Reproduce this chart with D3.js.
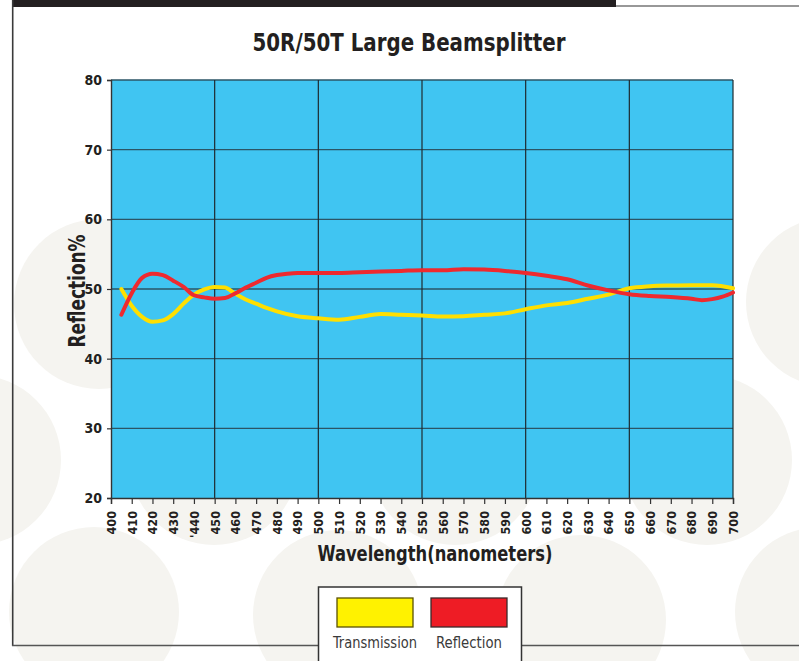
<!DOCTYPE html>
<html>
<head>
<meta charset="utf-8">
<script src="https://cdn.jsdelivr.net/npm/d3@7"></script>
<style>
html,body{margin:0;padding:0;background:#fff;}
svg{display:block;}
</style>
</head>
<body>
<svg id="chart" width="799" height="661"></svg>
<script>
// ---- data ----
const wavelengths = [400,410,420,430,440,450,460,470,480,490,500,510,520,530,540,550,560,570,580,590,600,610,620,630,640,650,660,670,680,690,700];
const xTickLabels = ["400","410","420","430","'440","450","460","470","480","490","500","510","520","530","540","550","560","570","580","590","600","610","620","630","640","650","660","670","680","690","700"];
const yTicks = [20,30,40,50,60,70,80];

const reflectionNm = [405,410,415,420,425,430,435,440,445,450,455,460,465,470,475,480,485,490,500,510,520,530,540,550,560,570,580,590,600,610,620,630,640,650,660,670,680,685,690,695,700];
const reflection   = [46.3,49.4,51.6,52.2,52.0,51.2,50.3,49.1,48.8,48.6,48.7,49.4,50.2,50.9,51.6,52.0,52.2,52.3,52.3,52.3,52.4,52.5,52.6,52.7,52.7,52.85,52.8,52.6,52.3,51.9,51.4,50.5,49.8,49.25,49.0,48.85,48.6,48.4,48.55,48.9,49.5];

const transmissionNm = [405,410,415,420,425,430,435,440,445,450,455,460,465,470,475,480,490,500,510,520,530,540,550,560,570,580,590,600,610,620,630,640,650,660,670,680,690,700];
const transmission   = [50.0,47.6,46.0,45.3,45.5,46.4,47.9,49.2,49.95,50.3,50.2,49.3,48.5,47.9,47.3,46.8,46.1,45.8,45.6,46.0,46.4,46.3,46.2,46.05,46.1,46.3,46.5,47.1,47.65,48.0,48.6,49.2,50.1,50.4,50.5,50.55,50.55,50.1];

const seriesNames = ["Transmission","Reflection"];
const seriesColors = ["#ffdf00","#ee2a2f"];
const swatchColors = ["#fff200","#ee1c25"];

// background decorative circles
const bgCircles = [[99,304],[-24,460],[94,612],[338,615],[581,620],[820,612],[831,302],[707,460],[214,460],[455,460]];

// ---- drawing ----
const svg = d3.select("#chart");
const narrow = "'Liberation Sans Narrow','DejaVu Sans Condensed',Arial,sans-serif";

svg.selectAll("circle.bg").data(bgCircles).enter().append("circle")
  .attr("class","bg").attr("cx",d=>d[0]).attr("cy",d=>d[1]).attr("r",85)
  .attr("fill","#f5f4f0");

// frame
svg.append("rect").attr("x",12).attr("y",0).attr("width",604).attr("height",7).attr("fill","#231f20");
svg.append("line").attr("x1",616).attr("x2",799).attr("y1",6).attr("y2",6).attr("stroke","#333").attr("stroke-width",1.2);
svg.append("line").attr("x1",12.7).attr("x2",12.7).attr("y1",0).attr("y2",646).attr("stroke","#3a3a3a").attr("stroke-width",1.6);
svg.append("line").attr("x1",12).attr("x2",799).attr("y1",645.5).attr("y2",645.5).attr("stroke","#555").attr("stroke-width",1.6);

const margin = {left:111, right:733, top:80, bottom:498};
const x = d3.scaleLinear().domain([400,700]).range([margin.left, margin.right]);
const y = d3.scaleLinear().domain([20,80]).range([margin.bottom, margin.top]);

// plot background
svg.append("rect").attr("x",margin.left).attr("y",margin.top)
  .attr("width",margin.right-margin.left).attr("height",margin.bottom-margin.top)
  .attr("fill","#40c5f2");

// grid
svg.append("g").selectAll("line").data(yTicks.filter(d=>d>20)).enter().append("line")
  .attr("x1",margin.left).attr("x2",margin.right).attr("y1",d=>y(d)).attr("y2",d=>y(d))
  .attr("stroke","#2b5566").attr("stroke-width",1.4);
svg.append("g").selectAll("line").data(d3.range(450,701,50)).enter().append("line")
  .attr("x1",d=>x(d)).attr("x2",d=>x(d)).attr("y1",margin.top).attr("y2",margin.bottom)
  .attr("stroke","#1e2a30").attr("stroke-width",1.2);

// axes
const yAxis = d3.axisLeft(y).tickValues(yTicks).tickSize(4).tickPadding(5).tickFormat(d3.format("d"));
const gy = svg.append("g").attr("transform",`translate(${margin.left},0)`).call(yAxis);
gy.select(".domain").attr("stroke","#333").attr("stroke-width",1.4);
gy.selectAll(".tick line").attr("stroke","#333").attr("stroke-width",1.2);
gy.selectAll(".tick text").attr("font-family",narrow).attr("font-weight","bold").attr("font-size","14px").attr("fill","#231f20");

const xAxis = d3.axisBottom(x).tickValues(wavelengths).tickSize(6).tickFormat((d,i)=>xTickLabels[i]);
const gx = svg.append("g").attr("transform",`translate(0,${margin.bottom})`).call(xAxis);
gx.select(".domain").attr("stroke","#333").attr("stroke-width",1.4);
gx.selectAll(".tick line").attr("stroke","#333").attr("stroke-width",1.2);
gx.selectAll(".tick text")
  .attr("font-family",narrow).attr("font-weight","bold").attr("font-size","12.5px").attr("fill","#231f20")
  .attr("text-anchor","end").attr("y",0).attr("dy","0.35em")
  .attr("transform","translate(0,13) rotate(-90)");

// lines
const line = d3.line().x(d=>x(d[0])).y(d=>y(d[1])).curve(d3.curveMonotoneX);
const tData = transmissionNm.map((n,i)=>[n,transmission[i]]);
const rData = reflectionNm.map((n,i)=>[n,reflection[i]]);
svg.append("path").datum(tData).attr("d",line).attr("fill","none")
  .attr("stroke",seriesColors[0]).attr("stroke-width",4).attr("stroke-linecap","round").attr("stroke-linejoin","round");
svg.append("path").datum(rData).attr("d",line).attr("fill","none")
  .attr("stroke",seriesColors[1]).attr("stroke-width",4).attr("stroke-linecap","round").attr("stroke-linejoin","round");

// titles
svg.append("text").attr("x",409).attr("y",51).attr("text-anchor","middle")
  .attr("font-family",narrow).attr("font-weight","bold").attr("font-size","25px").attr("fill","#231f20")
  .attr("textLength",313).attr("lengthAdjust","spacingAndGlyphs")
  .text("50R/50T Large Beamsplitter");
svg.append("text").attr("transform","translate(85,291) rotate(-90)").attr("text-anchor","middle")
  .attr("font-family",narrow).attr("font-weight","bold").attr("font-size","23px").attr("fill","#231f20")
  .attr("textLength",113).attr("lengthAdjust","spacingAndGlyphs")
  .text("Reflection%");
svg.append("text").attr("x",435).attr("y",561).attr("text-anchor","middle")
  .attr("font-family",narrow).attr("font-weight","bold").attr("font-size","22px").attr("fill","#231f20")
  .attr("textLength",235).attr("lengthAdjust","spacingAndGlyphs")
  .text("Wavelength(nanometers)");

// legend
const legendTextLen = [84,66];
const lg = svg.append("g");
lg.append("rect").attr("x",318.5).attr("y",587).attr("width",203).attr("height",90)
  .attr("fill","#fff").attr("stroke","#333").attr("stroke-width",1.5);
const items = lg.selectAll("g.item").data(seriesNames).enter().append("g").attr("class","item")
  .attr("transform",(d,i)=>`translate(${337+i*94},598)`);
items.append("rect").attr("width",76).attr("height",29)
  .attr("fill",(d,i)=>swatchColors[i]).attr("stroke",(d,i)=>i===0?"#5a5200":"#3a2a2a").attr("stroke-width",1.3);
items.append("text").attr("x",38).attr("y",50).attr("text-anchor","middle")
  .attr("font-family",narrow).attr("font-size","15px").attr("fill","#3a3a3a")
  .attr("textLength",(d,i)=>legendTextLen[i]).attr("lengthAdjust","spacingAndGlyphs")
  .text(d=>d);
</script>
</body>
</html>
